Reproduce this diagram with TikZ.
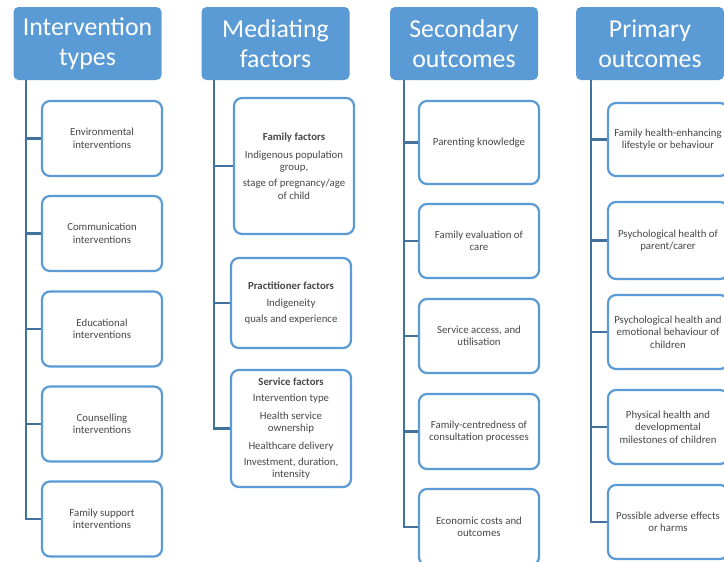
\documentclass[tikz,border=0pt]{standalone}
\usepackage{fontspec}
\setmainfont{Carlito}
\definecolor{hdrblue}{HTML}{5B9BD5}
\definecolor{boxblue}{HTML}{5B9BD5}
\definecolor{trunkblue}{HTML}{41719C}
\definecolor{txtgray}{HTML}{474747}
\tikzset{
  hdr/.style={rectangle, rounded corners=5pt, fill=hdrblue, draw=none, text=white,
    minimum width=148pt, minimum height=73pt, inner sep=0pt, align=center,
    font=\fontsize{25.8}{30}\selectfont},
  box/.style={rectangle, rounded corners=8pt, draw=boxblue, line width=2.2pt, fill=white,
    text=txtgray, minimum width=120pt, inner sep=0pt, align=center,
    font=\fontsize{10.8}{12.5}\selectfont},
  trunk/.style={draw=trunkblue, line width=2.4pt},
}
\begin{document}
\begin{tikzpicture}[x=1pt,y=-1pt]
\useasboundingbox (0,0) rectangle (724,562);
\clip (0,0) rectangle (724,562);
\fill[white] (0,0) rectangle (724,562);

% headers
\node[hdr] (h1) at (87.5,43.5) {Intervention\\types};
\node[hdr] (h2) at (275.5,43.5) {Mediating\\factors};
\node[hdr] (h3) at (464,43.5) {Secondary\\outcomes};
\node[hdr] (h4) at (650,43.5) {Primary\\outcomes};

% trunk coordinates
\coordinate (t1) at (26,80);
\coordinate (t2) at (214,80);
\coordinate (t3) at (404,80);
\coordinate (t4) at (591,80);

% intervention types
\node[box, minimum height=75pt] (i1) at (102,138.5) {Environmental\\interventions};
\node[box, minimum height=75pt] (i2) at (102,233.5) {Communication\\interventions};
\node[box, minimum height=75pt] (i3) at (102,329) {Educational\\interventions};
\node[box, minimum height=75pt] (i4) at (102,424) {Counselling\\interventions};
\node[box, minimum height=75pt] (i5) at (102,519) {Family support\\interventions};

% mediating factors
\node[box, minimum height=136pt] (m1) at (294,166) {\textbf{Family factors}\\[5pt]Indigenous population\\group,\\[3.5pt]stage of pregnancy/age\\of child};
\node[box, minimum height=90pt] (m2) at (291,303) {\textbf{Practitioner factors}\\[4pt]Indigeneity\\[3.5pt]quals and experience};
\node[box, minimum height=117pt] (m3) at (291,428.5) {\textbf{Service factors}\\[4pt]Intervention type\\[5pt]Health service\\ownership\\[5pt]Healthcare delivery\\[3.5pt]Investment, duration,\\intensity};

% secondary outcomes
\node[box, minimum height=83pt] (s1) at (479,142.5) {Parenting knowledge};
\node[box, minimum height=74pt] (s2) at (479,241) {Family evaluation of\\care};
\node[box, minimum height=74pt] (s3) at (479,336) {Service access, and\\utilisation};
\node[box, minimum height=75pt] (s4) at (479,431.5) {Family-centredness of\\consultation processes};
\node[box, minimum height=76pt] (s5) at (479,527) {Economic costs and\\outcomes};

% primary outcomes
\node[box, minimum height=73pt] (p1) at (668,139.5) {Family health-enhancing\\lifestyle or behaviour};
\node[box, minimum height=77pt] (p2) at (668,240.5) {Psychological health of\\parent/carer};
\node[box, minimum height=74pt] (p3) at (668,332) {Psychological health and\\emotional behaviour of\\children};
\node[box, minimum height=74pt] (p4) at (668,427) {Physical health and\\developmental\\milestones of children};
\node[box, minimum height=74pt] (p5) at (668,522) {Possible adverse effects\\or harms};

% connectors
\draw[trunk] (t1) |- (i5.west);
\foreach \n in {i1,i2,i3,i4} \draw[trunk] (t1 |- \n.west) -- (\n.west);
\draw[trunk] (t2) |- (m3.west);
\foreach \n in {m1,m2} \draw[trunk] (t2 |- \n.west) -- (\n.west);
\draw[trunk] (t3) |- (s5.west);
\foreach \n in {s1,s2,s3,s4} \draw[trunk] (t3 |- \n.west) -- (\n.west);
\draw[trunk] (t4) |- (p5.west);
\foreach \n in {p1,p2,p3,p4} \draw[trunk] (t4 |- \n.west) -- (\n.west);
\end{tikzpicture}
\end{document}
